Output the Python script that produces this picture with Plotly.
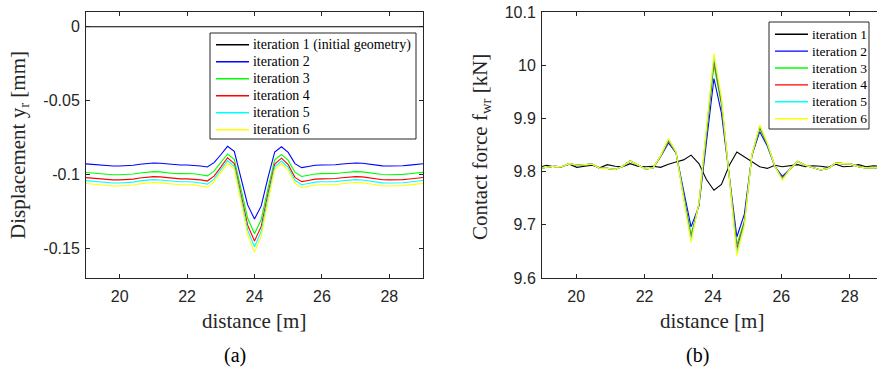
import plotly.graph_objects as go

# ---------------- data: (a) displacement ----------------
dist_a = [19.0, 19.2, 19.4, 19.6, 19.8, 20.0, 20.2, 20.4, 20.6, 20.8,
          21.0, 21.2, 21.4, 21.6, 21.8, 22.0, 22.2, 22.4, 22.6, 22.8,
          23.0, 23.2, 23.4, 23.6, 23.8, 24.0, 24.2, 24.4, 24.6, 24.8,
          25.0, 25.2, 25.4, 25.6, 25.8, 26.0, 26.2, 26.4, 26.6, 26.8,
          27.0, 27.2, 27.4, 27.6, 27.8, 28.0, 28.2, 28.4, 28.6, 28.8, 29.0]

disp_it1 = [0.0, 0.0, 0.0, 0.0, 0.0, 0.0, 0.0, 0.0, 0.0, 0.0,
            0.0, 0.0, 0.0, 0.0, 0.0, 0.0, 0.0, 0.0, 0.0, 0.0,
            0.0, 0.0, 0.0, 0.0, 0.0, 0.0, 0.0, 0.0, 0.0, 0.0,
            0.0, 0.0, 0.0, 0.0, 0.0, 0.0, 0.0, 0.0, 0.0, 0.0,
            0.0, 0.0, 0.0, 0.0, 0.0, 0.0, 0.0, 0.0, 0.0, 0.0, 0.0]
disp_it2 = [-0.0928, -0.0932, -0.0937, -0.0940, -0.0942, -0.0942, -0.0941, -0.0937, -0.0930, -0.0924,
            -0.0922, -0.0924, -0.0929, -0.0934, -0.0935, -0.0935, -0.0936, -0.0942, -0.0949, -0.0919,
            -0.0866, -0.0809, -0.0843, -0.1020, -0.1207, -0.1300, -0.1212, -0.1020, -0.0847, -0.0812,
            -0.0850, -0.0926, -0.0953, -0.0945, -0.0937, -0.0935, -0.0935, -0.0934, -0.0929, -0.0924,
            -0.0922, -0.0924, -0.0930, -0.0937, -0.0941, -0.0942, -0.0942, -0.0940, -0.0936, -0.0931, -0.0927]
disp_it3 = [-0.0986, -0.0991, -0.0996, -0.0999, -0.1001, -0.1001, -0.1000, -0.0996, -0.0989, -0.0982,
            -0.0980, -0.0982, -0.0988, -0.0993, -0.0994, -0.0994, -0.0995, -0.1001, -0.1009, -0.0977,
            -0.0921, -0.0861, -0.0897, -0.1094, -0.1298, -0.1400, -0.1304, -0.1094, -0.0901, -0.0864,
            -0.0904, -0.0984, -0.1013, -0.1005, -0.0996, -0.0994, -0.0994, -0.0993, -0.0988, -0.0982,
            -0.0980, -0.0982, -0.0989, -0.0996, -0.1000, -0.1001, -0.1001, -0.0999, -0.0995, -0.0990, -0.0985]
disp_it4 = [-0.1021, -0.1025, -0.1031, -0.1034, -0.1036, -0.1036, -0.1035, -0.1031, -0.1023, -0.1016,
            -0.1014, -0.1016, -0.1022, -0.1027, -0.1029, -0.1029, -0.1030, -0.1036, -0.1044, -0.1011,
            -0.0950, -0.0886, -0.0925, -0.1130, -0.1345, -0.1450, -0.1351, -0.1130, -0.0929, -0.0889,
            -0.0933, -0.1019, -0.1048, -0.1040, -0.1031, -0.1029, -0.1029, -0.1027, -0.1022, -0.1016,
            -0.1014, -0.1016, -0.1023, -0.1031, -0.1035, -0.1036, -0.1036, -0.1034, -0.1030, -0.1024, -0.1020]
disp_it5 = [-0.1041, -0.1046, -0.1051, -0.1055, -0.1057, -0.1057, -0.1056, -0.1051, -0.1043, -0.1037,
            -0.1034, -0.1037, -0.1042, -0.1048, -0.1049, -0.1049, -0.1050, -0.1057, -0.1065, -0.1031,
            -0.0970, -0.0905, -0.0944, -0.1158, -0.1378, -0.1488, -0.1384, -0.1158, -0.0948, -0.0909,
            -0.0952, -0.1039, -0.1069, -0.1060, -0.1051, -0.1049, -0.1049, -0.1048, -0.1042, -0.1037,
            -0.1034, -0.1037, -0.1043, -0.1051, -0.1056, -0.1057, -0.1057, -0.1055, -0.1050, -0.1045, -0.1040]
disp_it6 = [-0.1061, -0.1065, -0.1071, -0.1074, -0.1077, -0.1077, -0.1076, -0.1071, -0.1063, -0.1056,
            -0.1054, -0.1056, -0.1062, -0.1068, -0.1069, -0.1069, -0.1070, -0.1077, -0.1085, -0.1050,
            -0.0989, -0.0924, -0.0963, -0.1185, -0.1410, -0.1525, -0.1417, -0.1185, -0.0967, -0.0927,
            -0.0971, -0.1058, -0.1089, -0.1080, -0.1071, -0.1069, -0.1069, -0.1068, -0.1062, -0.1056,
            -0.1054, -0.1056, -0.1063, -0.1071, -0.1076, -0.1077, -0.1077, -0.1074, -0.1070, -0.1064, -0.1060]

# ---------------- data: (b) contact force ----------------
dist_b = [18.91, 19.13, 19.36, 19.58, 19.80, 20.02, 20.25, 20.47, 20.69, 20.91,
          21.14, 21.36, 21.58, 21.80, 22.03, 22.25, 22.47, 22.70, 22.92, 23.14,
          23.36, 23.59, 23.81, 24.03, 24.25, 24.48, 24.70, 24.92, 25.14, 25.37,
          25.59, 25.81, 26.03, 26.26, 26.48, 26.70, 26.92, 27.15, 27.37, 27.59,
          27.81, 28.04, 28.26, 28.48, 28.70, 28.93]

force_it1 = [9.808, 9.812, 9.809, 9.809, 9.814, 9.808, 9.810, 9.812, 9.807, 9.813,
             9.810, 9.809, 9.815, 9.810, 9.809, 9.810, 9.808, 9.814, 9.818, 9.822,
             9.831, 9.815, 9.785, 9.765, 9.776, 9.812, 9.837, 9.828, 9.818, 9.809,
             9.806, 9.812, 9.809, 9.811, 9.813, 9.809, 9.811, 9.810, 9.808, 9.814,
             9.809, 9.810, 9.813, 9.809, 9.811, 9.810]
force_it2 = [9.806, 9.808, 9.810, 9.809, 9.815, 9.812, 9.813, 9.814, 9.806, 9.806,
             9.804, 9.810, 9.820, 9.812, 9.805, 9.807, 9.828, 9.854, 9.835, 9.765,
             9.696, 9.735, 9.855, 9.975, 9.910, 9.795, 9.677, 9.720, 9.830, 9.875,
             9.848, 9.810, 9.791, 9.805, 9.819, 9.812, 9.808, 9.803, 9.806, 9.816,
             9.815, 9.814, 9.809, 9.807, 9.807, 9.808]
force_it3 = [9.806, 9.808, 9.810, 9.809, 9.815, 9.812, 9.813, 9.814, 9.806, 9.806,
             9.804, 9.810, 9.820, 9.812, 9.805, 9.807, 9.829, 9.857, 9.836, 9.758,
             9.682, 9.738, 9.865, 10.000, 9.925, 9.790, 9.662, 9.708, 9.831, 9.881,
             9.851, 9.810, 9.787, 9.805, 9.819, 9.812, 9.808, 9.803, 9.806, 9.816,
             9.815, 9.814, 9.809, 9.807, 9.807, 9.808]
force_it4 = [9.806, 9.808, 9.810, 9.809, 9.815, 9.812, 9.813, 9.814, 9.806, 9.806,
             9.804, 9.810, 9.820, 9.812, 9.805, 9.807, 9.829, 9.859, 9.836, 9.755,
             9.675, 9.739, 9.870, 10.009, 9.930, 9.788, 9.655, 9.704, 9.831, 9.884,
             9.852, 9.810, 9.786, 9.805, 9.819, 9.812, 9.808, 9.803, 9.806, 9.816,
             9.815, 9.814, 9.809, 9.807, 9.807, 9.808]
force_it5 = [9.806, 9.808, 9.810, 9.809, 9.815, 9.812, 9.813, 9.814, 9.806, 9.806,
             9.804, 9.810, 9.820, 9.812, 9.805, 9.807, 9.830, 9.861, 9.837, 9.753,
             9.671, 9.740, 9.874, 10.016, 9.935, 9.787, 9.648, 9.701, 9.832, 9.886,
             9.853, 9.810, 9.785, 9.805, 9.819, 9.812, 9.808, 9.803, 9.806, 9.816,
             9.815, 9.814, 9.809, 9.807, 9.807, 9.808]
force_it6 = [9.806, 9.808, 9.810, 9.809, 9.815, 9.812, 9.813, 9.814, 9.806, 9.806,
             9.804, 9.810, 9.820, 9.812, 9.805, 9.807, 9.830, 9.862, 9.837, 9.750,
             9.667, 9.741, 9.878, 10.022, 9.940, 9.786, 9.642, 9.698, 9.832, 9.888,
             9.854, 9.810, 9.784, 9.805, 9.819, 9.812, 9.808, 9.803, 9.806, 9.816,
             9.815, 9.814, 9.809, 9.807, 9.807, 9.808]

names_a = ["iteration 1 (initial geometry)", "iteration 2", "iteration 3",
           "iteration 4", "iteration 5", "iteration 6"]
names_b = ["iteration 1", "iteration 2", "iteration 3",
           "iteration 4", "iteration 5", "iteration 6"]
colors = ["#000000", "#0000FF", "#00FF00", "#FF0000", "#00FFFF", "#FFFF00"]

xticks = [20, 22, 24, 26, 28]
xticktext = ["20", "22", "24", "26", "28"]
yticks_a = [0, -0.05, -0.1, -0.15]
yticktext_a = ["0", "-0.05", "-0.1", "-0.15"]
yticks_b = [9.6, 9.7, 9.8, 9.9, 10.0, 10.1]
yticktext_b = ["9.6", "9.7", "9.8", "9.9", "10", "10.1"]

W, H = 877, 369
AX = "#262626"
SERIF = "Liberation Serif"
SANS = "Liberation Sans"

fig = go.Figure()
for name, col, ys in zip(names_a, colors,
                         [disp_it1, disp_it2, disp_it3, disp_it4, disp_it5, disp_it6]):
    fig.add_trace(go.Scatter(x=dist_a, y=ys, mode="lines", name=name,
                             line=dict(color=col, width=1.1), showlegend=False,
                             xaxis="x", yaxis="y"))
for name, col, ys in zip(names_b, colors,
                         [force_it1, force_it2, force_it3, force_it4, force_it5, force_it6]):
    fig.add_trace(go.Scatter(x=dist_b, y=ys, mode="lines", name=name,
                             line=dict(color=col, width=1.1), showlegend=False,
                             xaxis="x2", yaxis="y2"))


def px_x(p):
    return p / W


def px_y(p):
    return 1 - p / H


axis_common = dict(showline=True, linecolor=AX, linewidth=1, ticks="inside",
                   ticklen=4, tickcolor=AX, tickwidth=1, showgrid=False,
                   zeroline=False, automargin=False,
                   tickfont=dict(family=SANS, size=16, color=AX))

fig.update_layout(
    width=W, height=H, margin=dict(l=0, r=0, t=0, b=0),
    paper_bgcolor="white", plot_bgcolor="white", showlegend=False,
    xaxis=dict(domain=[px_x(86), px_x(423)], range=[19, 29], anchor="y",
               tickvals=xticks, ticktext=xticktext, mirror="ticks",
               ticklabelstandoff=4, **axis_common),
    yaxis=dict(domain=[px_y(278), px_y(12)], range=[-0.17, 0.01], anchor="x",
               tickvals=yticks_a, ticktext=yticktext_a, mirror="ticks",
               ticklabelstandoff=2, **axis_common),
    xaxis2=dict(domain=[px_x(542), 1.0], range=[19, 28.8], anchor="y2",
                tickvals=xticks, ticktext=xticktext, mirror="ticks",
                ticklabelstandoff=4, **axis_common),
    yaxis2=dict(domain=[px_y(278), px_y(12)], range=[9.6, 10.1], anchor="x2",
                tickvals=yticks_b, ticktext=yticktext_b, mirror=False,
                ticklabelstandoff=2, **axis_common),
)


# ---- legends (box + line samples + real text) ----
def add_legend(names, box, row0, dy, line_x0, line_x1, text_x, fsize):
    x0, y0, x1, y1 = box
    fig.add_shape(type="rect", xref="paper", yref="paper",
                  x0=px_x(x0), x1=px_x(x1), y0=px_y(y1), y1=px_y(y0),
                  line=dict(color=AX, width=1), fillcolor="white", layer="above")
    for i, (nm, col) in enumerate(zip(names, colors)):
        yy = row0 + i * dy
        fig.add_shape(type="line", xref="paper", yref="paper",
                      x0=px_x(line_x0), x1=px_x(line_x1), y0=px_y(yy), y1=px_y(yy),
                      line=dict(color=col, width=1.4), layer="above")
        fig.add_annotation(xref="paper", yref="paper", showarrow=False, text=nm,
                           x=px_x(text_x), y=px_y(yy), xanchor="left", yanchor="middle",
                           font=dict(family=SERIF, size=fsize, color="#000000"))


add_legend(names_a, (210, 33, 416, 139), 44.7, 17.0, 216, 249, 251, 13.9)
add_legend(names_b, (769, 22, 869, 129), 34.2, 16.9, 775, 808, 810, 13.5)

title_font = dict(family=SERIF, size=21, color=AX)
ann = [
    dict(text="distance [m]", x=px_x(254), y=px_y(321)),
    dict(text="distance [m]", x=px_x(712), y=px_y(321)),
    dict(text="Displacement y<sub>r</sub> [mm]", x=px_x(19), y=px_y(145), textangle=-90),
    dict(text="Contact force f<sub>wr</sub> [kN]", x=px_x(481), y=px_y(147), textangle=-90),
]
for a in ann:
    fig.add_annotation(xref="paper", yref="paper", showarrow=False,
                       xanchor="center", yanchor="middle", font=title_font, **a)
for txt, xp in [("(a)", 235), ("(b)", 697)]:
    fig.add_annotation(xref="paper", yref="paper", showarrow=False, text=txt,
                       x=px_x(xp), y=px_y(355), xanchor="center", yanchor="middle",
                       font=dict(family=SERIF, size=20, color="#000000"))

fig.write_html("out.html")
